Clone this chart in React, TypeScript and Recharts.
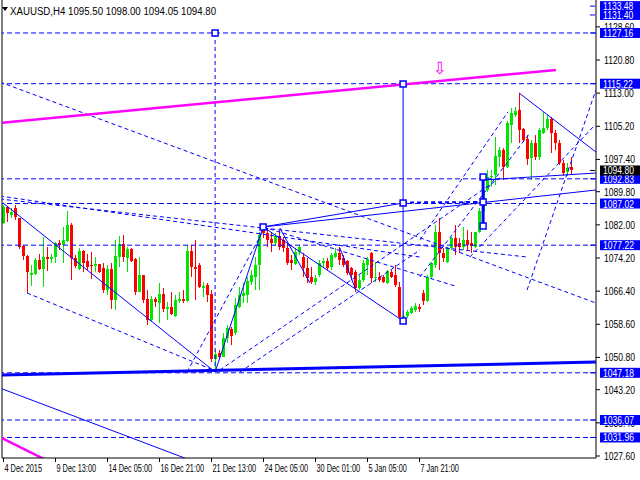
import React from "react";
import { ComposedChart, Bar, XAxis, YAxis, ReferenceLine, ReferenceDot } from "recharts";

// XAUUSD H4 candles, oldest first
const openP = [
  1082.4, 1086.2, 1084.3, 1086.0, 1083.6, 1077.0, 1074.7, 1070.2, 1070.4, 1073.7,
  1071.6, 1074.4, 1074.0, 1074.4, 1077.7, 1077.3, 1078.2, 1082.0, 1074.2, 1071.6,
  1075.9, 1073.5, 1072.6, 1072.3, 1072.8, 1071.9, 1066.7, 1071.6, 1064.3, 1074.4,
  1077.5, 1074.2, 1076.3, 1073.9, 1066.2, 1070.2, 1064.5, 1059.6, 1064.5, 1063.6,
  1065.7, 1062.2, 1062.7, 1060.6, 1064.1, 1064.5, 1064.1, 1075.9, 1072.1, 1072.6,
  1067.1, 1067.8, 1065.7, 1050.4, 1051.8, 1051.0, 1055.4, 1057.5, 1056.5, 1062.7,
  1065.3, 1065.5, 1068.6, 1069.7, 1072.6, 1081.0, 1080.1, 1078.7, 1077.7, 1079.4,
  1078.4, 1076.6, 1073.7, 1072.8, 1075.6, 1074.4, 1071.9, 1069.7, 1068.6, 1070.2,
  1073.0, 1073.5, 1072.1, 1074.4, 1075.4, 1074.2, 1073.5, 1071.9, 1070.9, 1067.1,
  1069.0, 1072.6, 1075.4, 1069.5, 1069.7, 1069.7, 1068.3, 1070.9, 1070.2, 1067.4,
  1060.3, 1060.6, 1061.3, 1062.0, 1062.7, 1065.9, 1064.1, 1069.7, 1072.6, 1080.3,
  1075.4, 1073.3, 1076.6, 1078.9, 1077.7, 1076.8, 1078.4, 1077.7, 1076.8, 1080.3,
  1085.3, 1090.2, 1093.3, 1093.7, 1098.0, 1099.6, 1095.6, 1105.5, 1107.9, 1109.0,
  1104.6, 1102.2, 1097.7, 1101.3, 1097.9, 1103.6, 1104.8, 1106.9, 1103.6, 1101.3,
  1096.6, 1094.4, 1095.5,
];
const highP = [
  1086.7, 1086.2, 1086.0, 1086.7, 1083.6, 1077.3, 1074.9, 1072.5, 1074.2, 1075.1,
  1079.1, 1076.8, 1075.1, 1078.0, 1078.4, 1081.5, 1085.3, 1082.4, 1074.9, 1076.6,
  1076.1, 1075.1, 1075.6, 1074.4, 1072.8, 1073.0, 1072.6, 1073.0, 1078.4, 1079.4,
  1079.6, 1076.8, 1076.6, 1074.2, 1074.4, 1070.2, 1066.7, 1065.3, 1065.0, 1068.3,
  1067.1, 1063.8, 1066.2, 1065.5, 1066.2, 1066.7, 1077.3, 1077.3, 1078.4, 1073.0,
  1068.5, 1068.3, 1066.7, 1052.6, 1052.6, 1056.5, 1058.4, 1058.0, 1064.8, 1067.4,
  1068.3, 1069.7, 1071.4, 1074.4, 1080.3, 1081.5, 1081.3, 1080.3, 1080.1, 1080.8,
  1079.1, 1077.7, 1074.9, 1076.6, 1077.3, 1075.4, 1074.2, 1072.1, 1070.2, 1073.7,
  1074.2, 1074.2, 1075.4, 1076.6, 1076.8, 1074.9, 1073.7, 1072.1, 1071.4, 1070.2,
  1073.7, 1074.4, 1075.6, 1073.3, 1070.9, 1070.2, 1071.4, 1071.4, 1072.6, 1068.6,
  1061.7, 1062.0, 1062.9, 1063.6, 1063.4, 1066.7, 1070.2, 1073.3, 1082.0, 1083.6,
  1076.6, 1076.8, 1079.1, 1082.0, 1078.9, 1081.5, 1080.8, 1080.3, 1080.3, 1086.0,
  1091.4, 1094.9, 1094.9, 1102.7, 1100.3, 1100.1, 1106.4, 1109.5, 1109.7, 1113.0,
  1104.8, 1103.2, 1102.0, 1103.2, 1104.8, 1108.6, 1107.9, 1107.4, 1104.3, 1102.0,
  1097.3, 1096.6, 1098.0,
];
const lowP = [
  1082.2, 1082.7, 1083.6, 1083.1, 1076.3, 1073.7, 1065.9, 1067.6, 1070.2, 1071.4,
  1067.4, 1071.1, 1073.0, 1073.0, 1076.1, 1073.0, 1078.0, 1069.0, 1071.8, 1071.4,
  1070.9, 1071.4, 1069.3, 1070.9, 1070.7, 1066.0, 1065.5, 1062.2, 1062.0, 1072.1,
  1073.3, 1070.9, 1073.3, 1065.5, 1066.2, 1063.6, 1058.4, 1059.1, 1062.7, 1058.9,
  1061.5, 1059.6, 1060.8, 1060.3, 1063.6, 1063.6, 1063.8, 1069.7, 1064.3, 1067.1,
  1065.0, 1063.8, 1049.7, 1047.8, 1050.4, 1050.9, 1054.2, 1053.7, 1056.1, 1062.4,
  1063.6, 1063.6, 1067.8, 1066.7, 1066.7, 1078.9, 1076.8, 1075.6, 1077.0, 1076.1,
  1075.6, 1072.6, 1071.4, 1072.6, 1074.9, 1069.7, 1068.3, 1068.1, 1067.8, 1069.7,
  1071.9, 1071.4, 1071.4, 1074.2, 1072.6, 1072.1, 1070.2, 1069.0, 1066.2, 1066.7,
  1068.6, 1070.2, 1068.3, 1068.6, 1068.6, 1068.3, 1068.1, 1069.5, 1067.4, 1060.1,
  1059.4, 1060.1, 1061.0, 1061.5, 1061.5, 1063.1, 1063.8, 1069.3, 1071.9, 1071.4,
  1073.3, 1073.0, 1076.1, 1074.9, 1075.4, 1076.1, 1076.1, 1075.4, 1076.6, 1080.1,
  1085.0, 1089.7, 1090.9, 1091.4, 1095.6, 1092.6, 1095.4, 1101.3, 1107.4, 1101.3,
  1101.5, 1096.1, 1092.6, 1097.3, 1097.3, 1103.4, 1104.3, 1098.9, 1099.6, 1096.1,
  1093.5, 1093.5, 1094.05,
];
const closeP = [
  1086.2, 1084.8, 1085.0, 1083.9, 1076.8, 1074.7, 1070.9, 1070.7, 1073.7, 1071.6,
  1074.4, 1073.9, 1074.4, 1077.7, 1077.3, 1078.4, 1082.0, 1074.2, 1072.3, 1075.9,
  1073.0, 1072.1, 1072.3, 1072.8, 1070.9, 1066.7, 1071.6, 1064.3, 1074.7, 1077.5,
  1074.4, 1076.3, 1073.5, 1066.2, 1070.2, 1064.3, 1059.6, 1064.5, 1063.9, 1065.7,
  1062.2, 1062.7, 1061.0, 1064.3, 1064.5, 1064.1, 1075.9, 1072.1, 1071.6, 1067.4,
  1067.6, 1065.5, 1050.4, 1051.6, 1050.9, 1055.4, 1057.7, 1055.8, 1063.1, 1065.5,
  1066.0, 1068.8, 1070.2, 1072.6, 1079.6, 1080.1, 1078.4, 1077.7, 1079.4, 1076.8,
  1076.6, 1073.0, 1073.0, 1075.6, 1076.8, 1071.9, 1069.5, 1068.6, 1069.5, 1073.0,
  1073.5, 1071.9, 1074.9, 1075.4, 1073.7, 1072.6, 1070.7, 1070.2, 1067.1, 1069.0,
  1073.0, 1074.0, 1069.5, 1069.7, 1069.0, 1068.6, 1071.1, 1069.7, 1067.8, 1060.3,
  1060.6, 1061.5, 1062.4, 1062.9, 1062.2, 1064.1, 1069.7, 1073.0, 1080.3, 1075.4,
  1074.2, 1076.6, 1078.9, 1076.8, 1076.8, 1078.4, 1077.3, 1077.0, 1080.3, 1085.3,
  1090.2, 1093.3, 1093.5, 1098.2, 1099.6, 1095.6, 1106.0, 1108.3, 1108.8, 1104.3,
  1102.0, 1097.5, 1101.3, 1097.9, 1104.3, 1104.8, 1106.9, 1103.6, 1101.3, 1096.6,
  1094.2, 1095.4, 1094.8,
];

const dateTickIdx = [0, 13, 26, 39, 52, 65, 78, 91, 104];
const dateLabels = [
  "4 Dec 2015", "9 Dec 13:00", "14 Dec 05:00", "16 Dec 21:00", "21 Dec 13:00",
  "24 Dec 05:00", "30 Dec 01:00", "5 Jan 05:00", "7 Jan 21:00",
];

const priceTicks = [1027.6, 1035.4, 1043.2, 1050.8, 1058.6, 1066.4, 1074.2, 1082.0, 1089.8, 1097.4, 1105.2, 1113.0, 1120.8, 1128.6];
const levelPrices = [1127.16, 1115.22, 1092.83, 1087.02, 1077.22, 1047.18, 1036.07, 1031.96];
const tagPrices = [1133.48, 1131.4, ...levelPrices];
const lastPrice = 1094.8;
const titleText = "XAUUSD,H4  1095.50 1098.00 1094.05 1094.80";

// trend lines as [barIndex1, price1, barIndex2, price2]
const solidLines = [
  [-0.1, 1087.14, 52.9, 1047.37],
  [52.9, 1047.37, 64.9, 1081.5],
  [64.9, 1081.5, 99.9, 1087.14],
  [64.9, 1081.5, 148.1, 1090.2],
  [64.9, 1081.5, 99.9, 1059.37],
  [128.9, 1113.03, 148.1, 1099.15],
  [119.9, 1092.56, 148.1, 1094.2],
  [-0.9, 1043.6, 46.6, 1026.66],
  [69.1, 1081.26, 76.6, 1068.31],
  [84.1, 1076.55, 87.9, 1067.14],
  [99.9, 1115.15, 99.9, 1059.37],
];
const thickLines = [
  [-0.9, 1046.66, 148.1, 1049.72],
  [119.9, 1093.26, 119.9, 1081.73],
];
const magentaLines = [
  [-0.9, 1105.97, 138.1, 1118.45],
  [-0.9, 1032.07, 10.6, 1026.66],
];
const dashedLines = [
  [52.9, 1127.15, 52.9, 1047.37],
  [-0.9, 1115.62, 148.1, 1063.61],
  [-0.9, 1088.08, 130.9, 1074.43],
  [5.9, 1065.96, 52.4, 1047.84],
  [-0.9, 1088.79, 104.1, 1074.43],
  [64.9, 1081.5, 112.9, 1067.61],
  [45.9, 1047.37, 64.6, 1080.08],
  [54.1, 1047.84, 124.1, 1093.03],
  [59.1, 1047.37, 104.1, 1076.08],
  [104.1, 1078.44, 126.1, 1108.56],
  [104.1, 1069.73, 131.6, 1103.62],
  [116.6, 1074.43, 147.4, 1105.03],
  [130.9, 1066.67, 148.1, 1113.74],
];
const boldDashed = [[99.9, 1087.26, 119.9, 1087.38]];
const anchorPts = [
  [64.9, 1081.5], [99.9, 1115.15], [99.9, 1087.14], [99.9, 1059.37],
  [119.9, 1093.26], [119.9, 1087.38], [119.9, 1081.73], [52.9, 1127.15],
];
const arrowPt = [109.1, 1118.9];

const BLUE = "#0000ff";
const UP = "#00e600";
const DOWN = "#ff0000";
const FONT = "'Liberation Sans', 'DejaVu Sans', sans-serif";

const candles = openP.map((o, i) => ({
  i,
  o,
  h: highP[i],
  l: lowP[i],
  c: closeP[i],
  range: [lowP[i], highP[i]],
}));

function Candle(props: any) {
  const { x, y, width, height, payload } = props;
  const top = Math.min(y, y + height);
  const hgt = Math.abs(height);
  const k = payload.h > payload.l ? hgt / (payload.h - payload.l) : 0;
  const cx = x + width / 2;
  const b1 = top + (payload.h - Math.max(payload.o, payload.c)) * k;
  const b2 = top + (payload.h - Math.min(payload.o, payload.c)) * k;
  const col = payload.c >= payload.o ? UP : DOWN;
  return (
    <g shapeRendering="crispEdges">
      <line x1={cx} x2={cx} y1={top} y2={top + hgt} stroke={col} />
      <rect x={cx - 1.5} y={b1} width={3} height={Math.max(1, b2 - b1)} fill={col} />
    </g>
  );
}

// narrow text, like the terminal's small font
function Narrow({ x, y, sx, size, fill, children }: any) {
  return (
    <text transform={`translate(${x},${y}) scale(${sx},1)`} fill={fill} fontSize={size} fontFamily={FONT}>
      {children}
    </text>
  );
}

function PriceTick(props: any) {
  const { x, y, payload } = props;
  const v = payload.value;
  const isLast = v === lastPrice;
  if (isLast || tagPrices.includes(v)) {
    return (
      <g>
        <line x1={x - 6} x2={x - 1} y1={y} y2={y} stroke={isLast ? "#000" : BLUE} />
        <rect x={x + 4} y={y - 5} width={40} height={10} fill={isLast ? "#000" : BLUE} />
        <Narrow x={x + 7} y={y + 4} sx={0.78} size={11} fill="#fff">
          {v.toFixed(2)}
        </Narrow>
      </g>
    );
  }
  return (
    <g>
      <line x1={x} x2={x + 4} y1={y} y2={y} stroke="#000" />
      <Narrow x={x + 8} y={y + 4} sx={0.78} size={11} fill="#000">
        {v.toFixed(2)}
      </Narrow>
    </g>
  );
}

function DateTick(props: any) {
  const { x, y, payload } = props;
  const label = dateLabels[dateTickIdx.indexOf(payload.value)] || "";
  return (
    <g>
      <line x1={x} x2={x} y1={y} y2={y + 4} stroke="#000" />
      <Narrow x={x + 1} y={y + 14} sx={0.7} size={10.5} fill="#000">
        {label}
      </Narrow>
    </g>
  );
}

const seg = (s: number[]) => [
  { x: s[0], y: s[1] },
  { x: s[2], y: s[3] },
];

export default function App() {
  return (
    <div style={{ position: "absolute", left: 0, top: 0, width: 640, height: 480, background: "#fff" }}>
      <ComposedChart width={640} height={480} data={candles} margin={{ top: 0, right: 0, bottom: 0, left: 2 }}>
        <XAxis
          dataKey="i"
          type="number"
          domain={[-0.375, 148.125]}
          allowDataOverflow
          ticks={dateTickIdx}
          interval={0}
          height={22}
          tickSize={0}
          tickMargin={0}
          tickLine={false}
          axisLine={{ stroke: "#000" }}
          tick={<DateTick />}
        />
        <YAxis
          orientation="right"
          type="number"
          domain={[1027.13, 1134.92]}
          allowDataOverflow
          ticks={[...priceTicks, ...tagPrices, lastPrice]}
          interval={0}
          width={44}
          tickSize={0}
          tickMargin={0}
          tickLine={false}
          axisLine={{ stroke: "#000" }}
          tick={<PriceTick />}
        />
        <ReferenceLine x={-0.375} stroke="#000" ifOverflow="visible" />
        {levelPrices.map((p) => (
          <ReferenceLine key={"lv" + p} y={p} stroke={BLUE} strokeDasharray="5 3" ifOverflow="hidden" />
        ))}
        {dashedLines.map((s, k) => (
          <ReferenceLine key={"d" + k} segment={seg(s)} stroke={BLUE} strokeDasharray="4 3" ifOverflow="hidden" />
        ))}
        {boldDashed.map((s, k) => (
          <ReferenceLine key={"bd" + k} segment={seg(s)} stroke={BLUE} strokeWidth={2} strokeDasharray="4 3" ifOverflow="hidden" />
        ))}
        <Bar dataKey="range" barSize={3} shape={<Candle />} isAnimationActive={false} />
        {solidLines.map((s, k) => (
          <ReferenceLine key={"s" + k} segment={seg(s)} stroke={BLUE} ifOverflow="hidden" />
        ))}
        {thickLines.map((s, k) => (
          <ReferenceLine key={"t" + k} segment={seg(s)} stroke={BLUE} strokeWidth={3} ifOverflow="hidden" />
        ))}
        {magentaLines.map((s, k) => (
          <ReferenceLine key={"m" + k} segment={seg(s)} stroke="#ff00ff" strokeWidth={2.5} ifOverflow="hidden" />
        ))}
        {anchorPts.map((p, k) => (
          <ReferenceDot
            key={"a" + k}
            x={p[0]}
            y={p[1]}
            r={3}
            ifOverflow="visible"
            shape={(d: any) => (
              <rect x={d.cx - 3} y={d.cy - 3} width={6} height={6} fill="#fff" stroke={BLUE} strokeWidth={1.5} />
            )}
          />
        ))}
        <ReferenceDot
          x={arrowPt[0]}
          y={arrowPt[1]}
          r={6}
          ifOverflow="visible"
          shape={(d: any) => (
            <text x={d.cx} y={d.cy + 6} textAnchor="middle" fill="#ff00ff" fontSize={17} fontFamily="DejaVu Sans">
              ⇩
            </text>
          )}
        />
      </ComposedChart>
      <svg width={230} height={20} style={{ position: "absolute", left: 0, top: 0 }}>
        <polygon points="2,7 8,7 5,11" fill="#000" />
        <Narrow x={10} y={15} sx={0.88} size={11} fill="#000">
          {titleText}
        </Narrow>
      </svg>
    </div>
  );
}
